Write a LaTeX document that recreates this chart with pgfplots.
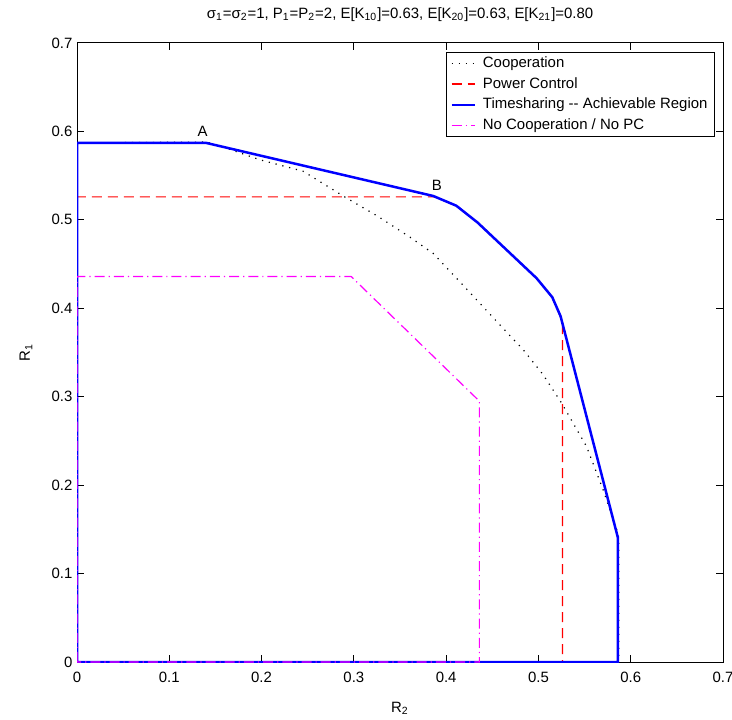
\documentclass[border=0pt]{standalone}
\usepackage{fontspec}
\setmainfont{Liberation Sans}
\usepackage{pgfplots}
\pgfplotsset{compat=1.18}
\definecolor{mblue}{RGB}{0,0,255}
\definecolor{mred}{RGB}{255,0,0}
\definecolor{mmag}{RGB}{255,0,255}
\newcommand{\fs}{\fontsize{7.5}{9}\selectfont}
\begin{document}
\begin{tikzpicture}
\begin{axis}[
    width=323bp, height=309.5bp, scale only axis,
    xmin=0, xmax=0.7, ymin=0, ymax=0.7,
    xtick={0,0.1,0.2,0.3,0.4,0.5,0.6,0.7},
    ytick={0,0.1,0.2,0.3,0.4,0.5,0.6,0.7},
    /pgf/number format/.cd, fixed, precision=1, assume math mode=true, /pgfplots/.cd,
    tick label style={font=\fs},
    xticklabel style={yshift=-1.5bp},
    yticklabel style={xshift=1.2bp},
    major tick length=3.5bp,
    axis line style={line width=0.5bp},
    tick style={line width=0.5bp, black},
    every axis title shift=0pt,
    title={σ\textsubscript{1}=σ\textsubscript{2}=1, P\textsubscript{1}=P\textsubscript{2}=2, E[K\textsubscript{10}]=0.63, E[K\textsubscript{20}]=0.63, E[K\textsubscript{21}]=0.80},
    title style={font=\fs, at={(axis description cs:0.5,1.040)}, anchor=base},
    xlabel={R\textsubscript{2}},
    ylabel={R\textsubscript{1}},
    xlabel style={font=\fs, at={(axis description cs:0.5,-0.081)}, anchor=base},
    ylabel style={font=\fs, at={(axis description cs:-0.079,0.5)}, anchor=center},
    legend style={at={(axis description cs:0.9876,0.986)}, anchor=north east,
        font=\fs, draw=black, line width=0.5bp, inner xsep=2bp, inner ysep=0.3bp,
        column sep=1.8bp, row sep=0pt,
        nodes={inner sep=1.5bp, text height=5.8bp, text depth=1.6bp}},
    legend cell align=left,
    legend image code/.code={\draw[#1] (0bp,0bp) -- (11.7bp,0bp);},
]
\addplot[black, line width=0.6bp, dash pattern=on 0.6bp off 2.9bp] coordinates {
(0,0) (0,0.587) (0.14,0.588) (0.151,0.585) (0.198,0.568) (0.245,0.555) (0.29,0.526)
(0.326,0.504) (0.36,0.481) (0.386,0.462) (0.422,0.422) (0.462,0.377) (0.4836,0.353)
(0.505,0.325) (0.525,0.293) (0.552,0.244) (0.570,0.195) (0.585,0.149) (0.587,0.14)
(0.587,0) (0,0)};
\addlegendentry{Cooperation}
\addplot[mred, line width=0.6bp, dash pattern=on 5bp off 3bp] coordinates {
(0,0) (0,0.526) (0.388,0.526) (0.411,0.516) (0.434,0.497) (0.498,0.434)
(0.515,0.4125) (0.526,0.385) (0.526,0) (0,0)};
\addlegendentry{Power Control}
\addplot[mblue, line width=1.25bp] coordinates {
(0,0) (0,0.587) (0.14,0.587) (0.386,0.527) (0.411,0.516) (0.434,0.497) (0.498,0.434)
(0.515,0.4125) (0.524,0.391) (0.586,0.141) (0.586,0) (0,0)};
\addlegendentry{Timesharing -{}- Achievable Region}
\addplot[mmag, line width=0.6bp, dash pattern=on 5bp off 2bp on 0.6bp off 2bp] coordinates {
(0,0) (0,0.436) (0.297,0.436) (0.436,0.295) (0.436,0) (0,0)};
\addlegendentry{No Cooperation / No PC}
\node[font=\fs] at (axis cs:0.136,0.600) {A};
\node[font=\fs] at (axis cs:0.390,0.5385) {B};
\end{axis}
\pgfresetboundingbox
\path ([shift={(-38.5bp,-29bp)}]current axis.south west) rectangle ([shift={(4.5bp,21.5bp)}]current axis.north east);
\end{tikzpicture}
\end{document}
